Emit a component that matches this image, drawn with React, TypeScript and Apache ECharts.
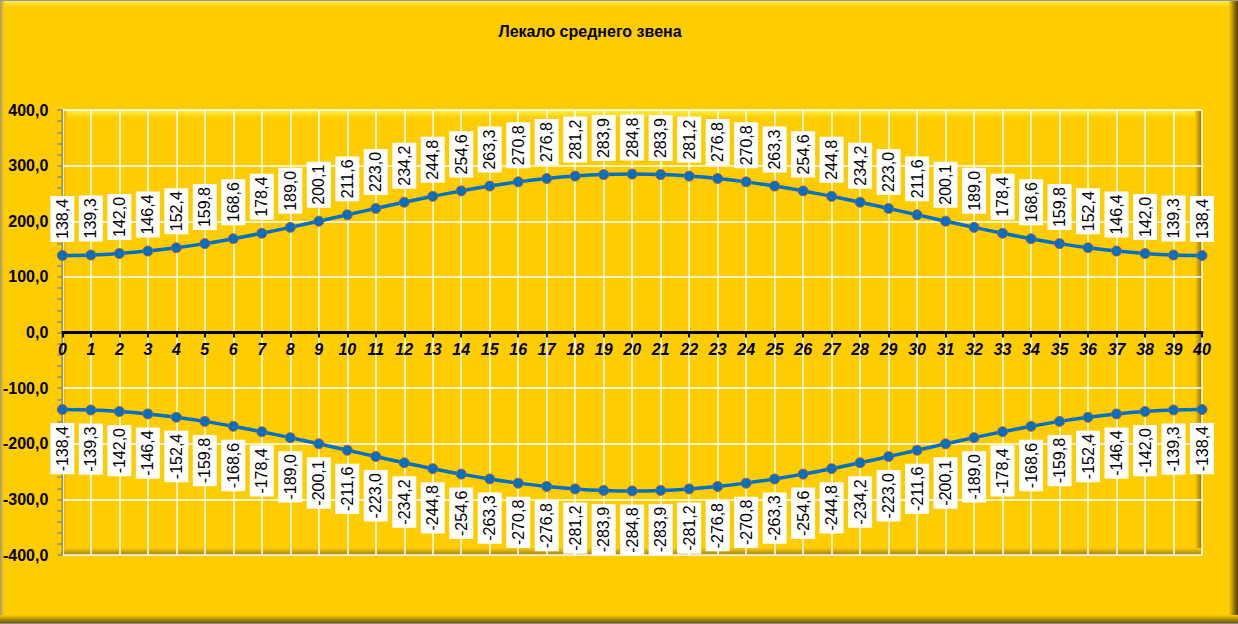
import React, { useEffect, useRef } from "react";
import * as echarts from "echarts";

const title = "Лекало среднего звена";
const xValues = [0,1,2,3,4,5,6,7,8,9,10,11,12,13,14,15,16,17,18,19,20,21,22,23,24,25,26,27,28,29,30,31,32,33,34,35,36,37,38,39,40];
const upperValues = [138.4,139.3,142.0,146.4,152.4,159.8,168.6,178.4,189.0,200.1,211.6,223.0,234.2,244.8,254.6,263.3,270.8,276.8,281.2,283.9,284.8,283.9,281.2,276.8,270.8,263.3,254.6,244.8,234.2,223.0,211.6,200.1,189.0,178.4,168.6,159.8,152.4,146.4,142.0,139.3,138.4];
const lowerValues = [-138.4,-139.3,-142.0,-146.4,-152.4,-159.8,-168.6,-178.4,-189.0,-200.1,-211.6,-223.0,-234.2,-244.8,-254.6,-263.3,-270.8,-276.8,-281.2,-283.9,-284.8,-283.9,-281.2,-276.8,-270.8,-263.3,-254.6,-244.8,-234.2,-223.0,-211.6,-200.1,-189.0,-178.4,-168.6,-159.8,-152.4,-146.4,-142.0,-139.3,-138.4];
const yMin = -400;
const yMax = 400;
const yStep = 100;

const W = 1238;
const H = 624;
const G = { left: 61, right: 36, top: 110, bottom: 69 };

const fmt = (v: number) => v.toFixed(1).replace(".", ",");
const FONT = "'Liberation Sans', Arial, sans-serif";

function grad(x0: number, y0: number, x1: number, y1: number, c0: string, c1: string) {
  return new echarts.graphic.LinearGradient(x0, y0, x1, y1, [
    { offset: 0, color: c0 },
    { offset: 1, color: c1 },
  ]);
}

export default function App() {
  const ref = useRef<HTMLDivElement>(null);
  useEffect(() => {
    if (!ref.current) return;
    const chart = echarts.init(ref.current, undefined, { renderer: "svg", width: W, height: H });
    const pl = G.left, pt = G.top, pr = W - G.right, pb = H - G.bottom;
    const pw = pr - pl, ph = pb - pt;
    // distance from the bottom of the plot to the zero line
    const zeroOffset = (ph * (0 - yMin)) / (yMax - yMin);
    const bg = "#FFCC00";
    const mk = (data: number[]) => data.map((v, i) => [xValues[i], v]);
    const labelBase = {
      show: true,
      rotate: 90,
      color: "#000",
      fontSize: 16,
      fontFamily: FONT,
      backgroundColor: "#FFFFFF",
      padding: [4, 3, 4, 3],
      verticalAlign: "middle" as const,
      formatter: (p: any) => fmt(p.value[1]),
      distance: 8,
    };
    const lineSeries = (name: string, data: number[], pos: "top" | "bottom") => ({
      name,
      type: "line",
      data: mk(data),
      smooth: 0.3,
      symbol: "circle",
      symbolSize: 10,
      lineStyle: { color: "#0070C0", width: 3.5 },
      itemStyle: { color: "#0070C0", borderColor: "#B0584A", borderWidth: 1 },
      label: { ...labelBase, position: pos, align: pos === "top" ? "left" : "right" },
      z: 5,
    });
    chart.setOption({
      animation: false,
      backgroundColor: bg,
      grid: { left: G.left, right: G.right, top: G.top, bottom: G.bottom, containLabel: false },
      graphic: [
        // outer frame bevel
        { type: "rect", z: -10, shape: { x: 0, y: 0, width: W, height: 7 }, style: { fill: grad(0, 0, 0, 1, "#FFF060", bg) } },
        { type: "rect", z: -10, shape: { x: 0, y: 0, width: 4, height: H }, style: { fill: grad(0, 0, 1, 0, "#A89A70", bg) } },
        { type: "rect", z: -9, shape: { x: W - 9, y: 0, width: 9, height: H }, style: { fill: grad(0, 0, 1, 0, bg, "#4A3C00") } },
        { type: "rect", z: -9, shape: { x: 0, y: H - 9, width: W, height: 9 }, style: { fill: grad(0, 0, 0, 1, bg, "#5A4A10") } },
        { type: "rect", z: -8, shape: { x: 0, y: 0, width: W, height: 1 }, style: { fill: "#9A9A9A" } },
        { type: "rect", z: -8, shape: { x: 0, y: H - 1, width: W, height: 1 }, style: { fill: "#8A8A8A" } },
        // plot area bevel
        { type: "rect", z: -7, shape: { x: pl, y: pt, width: pw, height: 8 }, style: { fill: grad(0, 0, 0, 1, "#FFF44A", bg) } },
        { type: "rect", z: -7, shape: { x: pl, y: pt, width: 6, height: ph }, style: { fill: grad(0, 0, 1, 0, "#D9A800", bg) } },
        { type: "rect", z: -6, shape: { x: pr - 7, y: pt, width: 7, height: ph }, style: { fill: grad(0, 0, 1, 0, bg, "#8A6E10") } },
        { type: "rect", z: -6, shape: { x: pl, y: pb - 7, width: pw, height: 7 }, style: { fill: grad(0, 0, 0, 1, bg, "#9A7E20") } },
        {
          type: "text",
          x: 590,
          y: 31,
          z: 10,
          style: {
            text: title,
            fill: "#000",
            font: `bold 16px ${FONT}`,
            textAlign: "center",
            textVerticalAlign: "middle",
          },
        },
      ],
      xAxis: {
        type: "value",
        min: 0,
        max: 40,
        interval: 1,
        offset: -zeroOffset,
        axisLine: { onZero: false, lineStyle: { color: "#000", width: 3 } },
        axisTick: { show: true, length: 5, lineStyle: { color: "#000", width: 2 } },
        axisLabel: {
          color: "#000",
          fontSize: 16,
          fontWeight: "bold",
          fontStyle: "italic",
          fontFamily: FONT,
          margin: 9,
        },
        splitLine: { show: true, lineStyle: { color: "#FFFFFF", width: 1.5 } },
      },
      yAxis: {
        type: "value",
        min: yMin,
        max: yMax,
        interval: yStep,
        axisLine: { show: true, lineStyle: { color: "#8C8C8C", width: 1 } },
        axisTick: { show: true, length: 5, lineStyle: { color: "#8C8C8C", width: 1.5 } },
        minorTick: { show: true, splitNumber: 5, length: 5, lineStyle: { color: "#8C8C8C", width: 1.5 } },
        axisLabel: {
          color: "#000",
          fontSize: 16,
          fontWeight: "bold",
          fontFamily: FONT,
          margin: 14,
          formatter: (v: number) => fmt(v),
        },
        splitLine: { show: true, lineStyle: { color: "#FFFFFF", width: 1.5 } },
      },
      series: [lineSeries("upper", upperValues, "top"), lineSeries("lower", lowerValues, "bottom")],
    });
    return () => chart.dispose();
  }, []);
  return (
    <div
      ref={ref}
      style={{ position: "fixed", left: 0, top: 0, width: W, height: H }}
    />
  );
}
